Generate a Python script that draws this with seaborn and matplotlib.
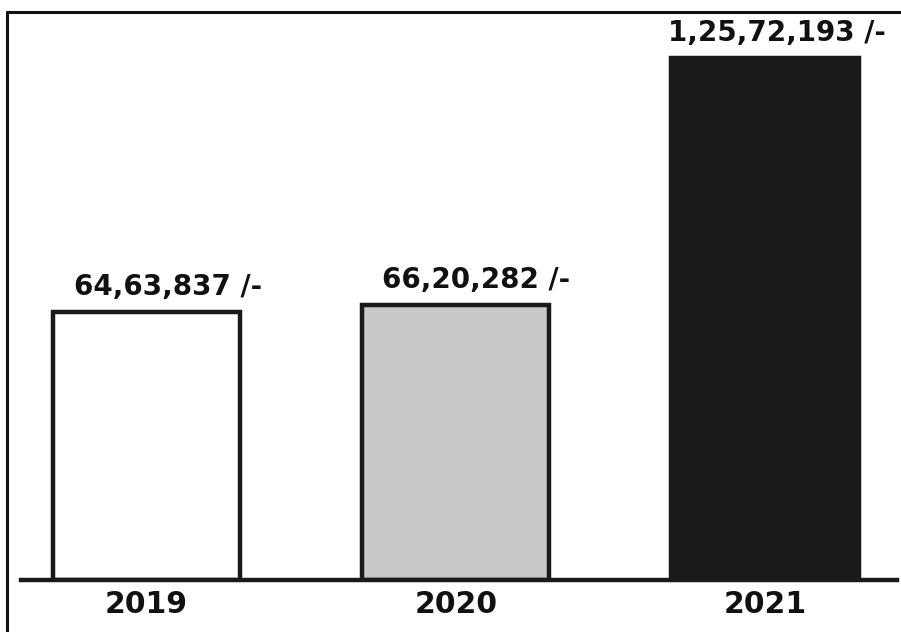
import matplotlib
matplotlib.use("Agg")
import matplotlib.pyplot as plt
from matplotlib.lines import Line2D
import seaborn as sns
import pandas as pd

years = ["2019", "2020", "2021"]
amounts = [6463837, 6620282, 12572193]
labels = ["64,63,837 /-", "66,20,282 /-", "1,25,72,193 /-"]
fill_colors = ["#ffffff", "#c8c8c8", "#1a1a1a"]
label_dx_px = [22, 20, 12]

sns.set_theme(style="white")
plt.rcParams["font.family"] = ["DejaVu Sans"]

df = pd.DataFrame({"year": years, "amount": amounts})

fig = plt.figure(figsize=(9.01, 6.32), dpi=100)
W, H = 901, 632
ax = fig.add_axes([21 / W, (H - 580) / H, (897 - 21) / W, (580 - 12) / H])

sns.barplot(data=df, x="year", y="amount", hue="year", palette=fill_colors,
            legend=False, width=0.605, edgecolor="#1a1a1a", linewidth=3.2,
            saturation=1, ax=ax)

ax.set_xlim(-0.406, 2.427)
ax.set_ylim(0, 12572193 * 568 / 522)

for i, (v, lab) in enumerate(zip(amounts, labels)):
    ax.annotate(lab, xy=(i, v), xytext=(label_dx_px[i] * 0.72, 12),
                textcoords="offset points", ha="center", va="baseline",
                fontsize=20, fontweight="bold", color="#111111")

for s in ["left", "right", "top"]:
    ax.spines[s].set_visible(False)
ax.spines["bottom"].set_linewidth(3.2)
ax.spines["bottom"].set_color("#1a1a1a")
ax.spines["bottom"].set_zorder(5)
ax.set_yticks([])
ax.set_xlabel("")
ax.set_ylabel("")
ax.tick_params(axis="x", length=0, pad=7, labelsize=21.5)
for t in ax.get_xticklabels():
    t.set_fontweight("bold")
    t.set_color("#111111")

fig.add_artist(Line2D([7 / W, 7 / W], [0, (H - 12) / H], color="#111111", lw=2.2,
                      transform=fig.transFigure))
fig.add_artist(Line2D([7 / W, 1], [(H - 12) / H, (H - 12) / H], color="#111111", lw=2.2,
                      transform=fig.transFigure))

fig.savefig("out.png", dpi=100)
